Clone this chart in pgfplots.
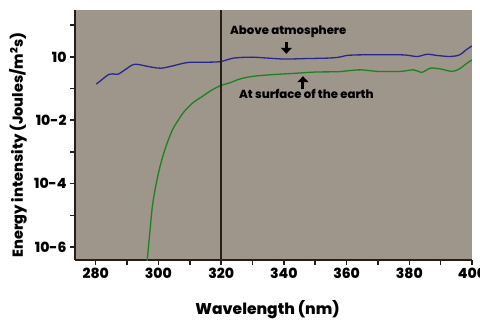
\documentclass[border=0pt]{standalone}
\usepackage{pgfplots}
\pgfplotsset{compat=1.18}
\usetikzlibrary{arrows.meta}
\usepackage{fontspec}
\setmainfont{Poppins}[BoldFont={Poppins ExtraBold}]
\definecolor{bgc}{RGB}{158,149,139}
\definecolor{axc}{RGB}{38,30,24}
\definecolor{bluec}{RGB}{40,40,140}
\definecolor{greenc}{RGB}{30,130,35}
\begin{document}
\begin{tikzpicture}
\begin{axis}[
  at={(0,0)}, anchor=south west,
  scale only axis, width=397pt, height=250pt,
  xmin=273.4, xmax=400,
  ymode=log, ymin=3.89e-7, ymax=30,
  axis x line*=bottom, axis y line*=left,
  axis line style={-, color=axc, line width=1.8pt},
  axis background/.style={fill=bgc},
  xtick={280,300,320,340,360,380,400},
  minor xtick={290,310,330,350,370,390},
  ytick={1,1e-2,1e-4,1e-6},
  yticklabels={10,10-2,10-4,10-6},
  minor ytick={10,1e-1,1e-3,1e-5},
  tick align=outside,
  major tick length=5pt, minor tick length=5pt,
  every tick/.style={color=axc, line width=1.5pt},
  /pgf/number format/assume math mode=true,
  tick label style={font=\bfseries\fontsize{14}{16}\selectfont, color=black},
  xlabel={Wavelength (nm)},
  xlabel style={at={(axis description cs:0.485,-0.2)}, anchor=center, font=\bfseries\fontsize{15.5}{17}\selectfont},
  ylabel={Energy intensity (Joules/m\textsuperscript{2}s)},
  ylabel style={at={(axis description cs:-0.1436,0.46)}, anchor=center, rotate=0, font=\bfseries\fontsize{14.5}{16}\selectfont},
  clip=true,
]
\addplot[bluec, line width=1.3pt, smooth, tension=0.5] coordinates {
(280.2,0.138) (282.0,0.191) (283.9,0.269) (285.5,0.29) (287.1,0.282) (289.5,0.40)
(291.8,0.562) (293.5,0.575) (295.5,0.525) (298,0.47) (300.8,0.437) (304,0.501)
(309.3,0.661) (315.6,0.676) (319.8,0.708) (324,0.912) (329.7,0.977) (335,0.91)
(340.3,0.851) (347,0.88) (354,0.912) (357.5,0.97) (360,1.10) (363.5,1.15)
(370,1.16) (378.3,1.148) (382.5,1.023) (385.7,1.202) (389,1.10) (393,1.023)
(396,1.15) (398.4,1.738) (400,2.2)
};
\addplot[greenc, line width=1.3pt, smooth, tension=0.5] coordinates {
(296.2,2.0e-7) (296.5,4.47e-7) (297.3,3.16e-6) (298.1,2.0e-5) (299.3,1.0e-4)
(300.8,4.47e-4) (302.5,1.58e-3) (304.5,5.01e-3) (306.3,1.0e-2) (308.2,0.0186)
(311,0.0355) (314,0.0562) (317,0.0891) (320,0.126) (322.5,0.148) (326,0.20)
(329.8,0.240) (335,0.269) (343.5,0.302) (350,0.331) (357.2,0.339) (360.4,0.363)
(364.6,0.389) (369.9,0.347) (377.2,0.347) (381.4,0.389) (384,0.324) (386.7,0.437)
(389.8,0.417) (393.6,0.347) (396,0.417) (398.4,0.631) (400,0.794)
};
\draw[axc, line width=1.4pt] (axis cs:320,3.89e-7) -- (axis cs:320,30);
\node[font=\bfseries\fontsize{11.7}{13}\selectfont] at (axis cs:341.4,6.17) {Above atmosphere};
\draw[-{Triangle[length=6pt,width=11pt]}, line width=3pt, black] (axis cs:340.8,3.0) -- (axis cs:340.8,1.25);
\node[font=\bfseries\fontsize{11.7}{13}\selectfont] at (axis cs:347.2,0.0676) {At surface of the earth};
\draw[-{Triangle[length=6pt,width=11pt]}, line width=3pt, black] (axis cs:346.1,0.100) -- (axis cs:346.1,0.245);
\end{axis}
\pgfresetboundingbox
\path (-75pt,-62pt) rectangle (405pt,260pt);
\end{tikzpicture}
\end{document}
